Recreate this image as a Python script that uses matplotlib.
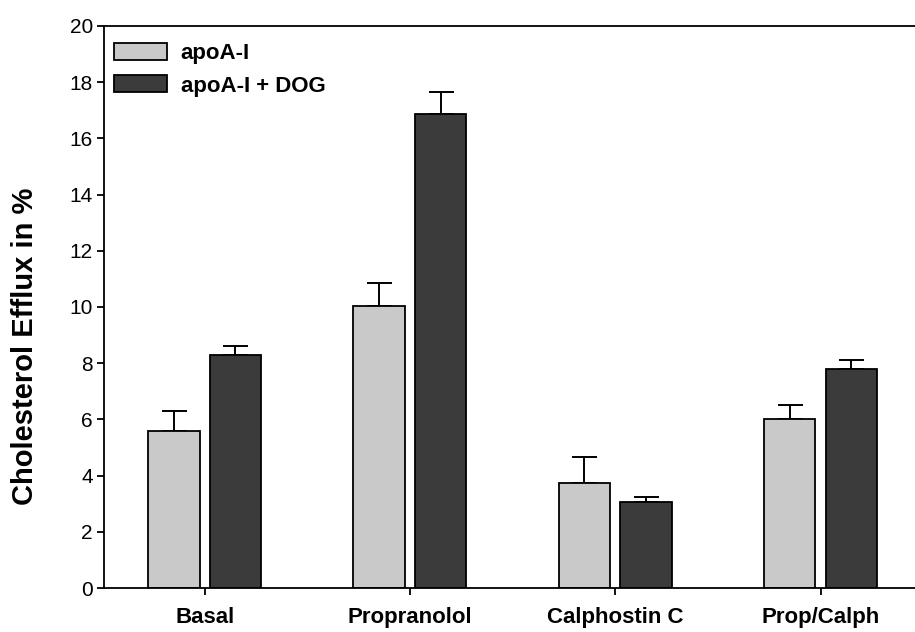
import matplotlib
matplotlib.use("Agg")
import matplotlib.pyplot as plt
import numpy as np
from matplotlib.patches import Patch

plt.rcParams['font.family'] = ['Liberation Sans', 'DejaVu Sans']

categories = ["Basal", "Propranolol", "Calphostin C", "Prop/Calph"]
apoA = [5.6, 10.05, 3.75, 6.0]
apoA_err = [0.7, 0.8, 0.9, 0.5]
apoA_dog = [8.3, 16.85, 3.05, 7.8]
apoA_dog_err = [0.3, 0.8, 0.2, 0.3]
yticks = [0, 2, 4, 6, 8, 10, 12, 14, 16, 18, 20]

fig = plt.figure(figsize=(9.15, 6.32), dpi=100)
ax = fig.add_axes([0.1137, 0.0696, 0.8863, 0.8893])

x = np.arange(len(categories))
w = 0.25
off = 0.15
light = "#c9c9c9"
dark = "#3b3b3b"
ax.bar(x - off, apoA, w, color=light, edgecolor="black", linewidth=1.3, zorder=2)
ax.bar(x + off, apoA_dog, w, color=dark, edgecolor="black", linewidth=1.3, zorder=2)
ax.errorbar(x - off, apoA, yerr=[np.zeros(len(apoA)), apoA_err], fmt="none",
            ecolor="black", elinewidth=1.4, capsize=9, capthick=1.4, zorder=1)
ax.errorbar(x + off, apoA_dog, yerr=[np.zeros(len(apoA_dog)), apoA_dog_err], fmt="none",
            ecolor="black", elinewidth=1.4, capsize=9, capthick=1.4, zorder=1)

ax.set_xlim(-0.49, 3.46)
ax.set_ylim(0, 20)
ax.set_yticks(yticks)
ax.set_yticklabels([str(t) for t in yticks], fontsize=15)
ax.set_xticks(x)
ax.set_xticklabels(categories, fontsize=16, fontweight="bold")
ax.tick_params(axis="x", length=5, width=1.3, pad=9)
ax.tick_params(axis="y", length=5, width=1.3, pad=3)
ax.spines["right"].set_visible(False)
for s in ["left", "top", "bottom"]:
    ax.spines[s].set_linewidth(1.3)
ax.set_ylabel("Cholesterol Efflux in %", fontsize=21, fontweight="bold")
ax.yaxis.set_label_coords(-0.08, 0.43)

handles = [Patch(facecolor=light, edgecolor="black", linewidth=1.3),
           Patch(facecolor=dark, edgecolor="black", linewidth=1.3)]
leg = ax.legend(handles, ["apoA-I", "apoA-I + DOG"], loc="upper left",
                bbox_to_anchor=(10 / 811, 1 - 17 / 562),
                frameon=False, prop={"weight": "bold", "size": 16},
                handlelength=2.4, handleheight=0.8, borderaxespad=0, borderpad=0,
                labelspacing=0.5, handletextpad=0.6)

fig.savefig("out.png", dpi=100)
